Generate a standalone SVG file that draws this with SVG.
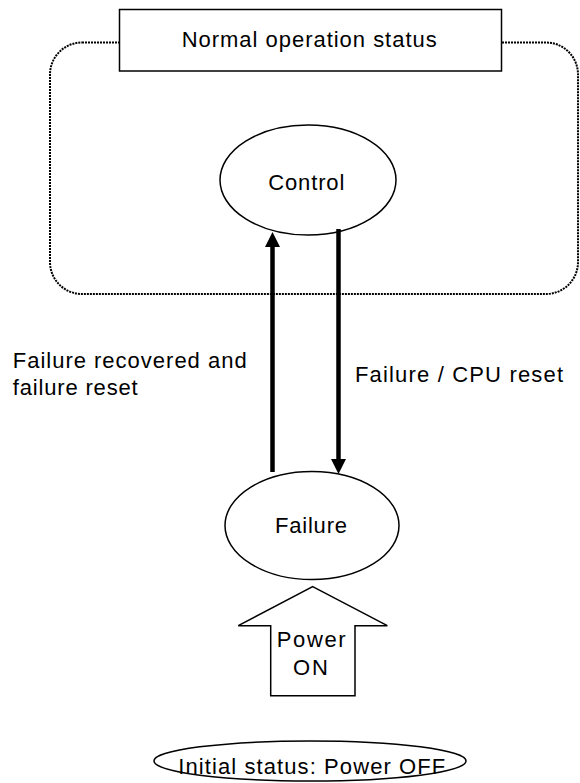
<svg xmlns="http://www.w3.org/2000/svg" width="580" height="783" viewBox="0 0 580 783">
<style>
  text { font-family: "Liberation Sans", Arial, sans-serif; font-size: 22px; fill: #000; }
  .shape { fill: #fff; stroke: #000; stroke-width: 1.5; }
  .dotted { fill: none; stroke: #000; stroke-width: 2; stroke-dasharray: 2 1; }
  .conn { fill: none; stroke: #000; stroke-width: 4.5; }
</style>
<defs>
  <marker id="ah" viewBox="0 0 15 15" refX="1" refY="7.5" markerWidth="15" markerHeight="15" markerUnits="userSpaceOnUse" orient="auto">
    <path d="M0,0 L15,7.5 L0,15 z" fill="#000"/>
  </marker>
</defs>
<rect width="580" height="783" fill="#fff"/>

<g id="normal-group">
  <rect class="dotted" x="50" y="42.5" width="528" height="251.5" rx="32" ry="32"/>
</g>

<g id="title">
  <rect class="shape" x="119.5" y="9.5" width="382" height="61.5"/>
  <text x="181.7" y="46.7" textLength="255" lengthAdjust="spacing">Normal operation status</text>
</g>

<g id="control">
  <ellipse class="shape" cx="308" cy="180" rx="88" ry="55"/>
  <text x="268.3" y="190" textLength="76" lengthAdjust="spacing">Control</text>
</g>

<g id="failure">
  <ellipse class="shape" cx="312" cy="525.5" rx="87" ry="54"/>
  <text x="275" y="533" textLength="72" lengthAdjust="spacing">Failure</text>
</g>

<g id="power-on">
  <polygon class="shape" points="312.7,586.7 387.3,625.7 355,625.7 355,695.7 270.7,695.7 270.7,625.7 238.3,625.7"/>
  <text x="276.7" y="646.7" textLength="69" lengthAdjust="spacing">Power</text>
  <text x="293" y="675" textLength="35" lengthAdjust="spacing">ON</text>
</g>

<g id="initial">
  <ellipse class="shape" cx="310" cy="761" rx="156" ry="20"/>
  <text x="178.3" y="774" textLength="267" lengthAdjust="spacing">Initial status: Power OFF</text>
</g>

<g id="connectors">
  <line class="conn" x1="272.5" y1="472" x2="272.5" y2="246" marker-end="url(#ah)"/>
  <line class="conn" x1="338.5" y1="229" x2="338.5" y2="460" marker-end="url(#ah)"/>
  <text x="12.7" y="368" textLength="234" lengthAdjust="spacing">Failure recovered and</text>
  <text x="12.7" y="395" textLength="125" lengthAdjust="spacing">failure reset</text>
  <text x="355" y="381.7" textLength="208" lengthAdjust="spacing">Failure / CPU reset</text>
</g>
</svg>
